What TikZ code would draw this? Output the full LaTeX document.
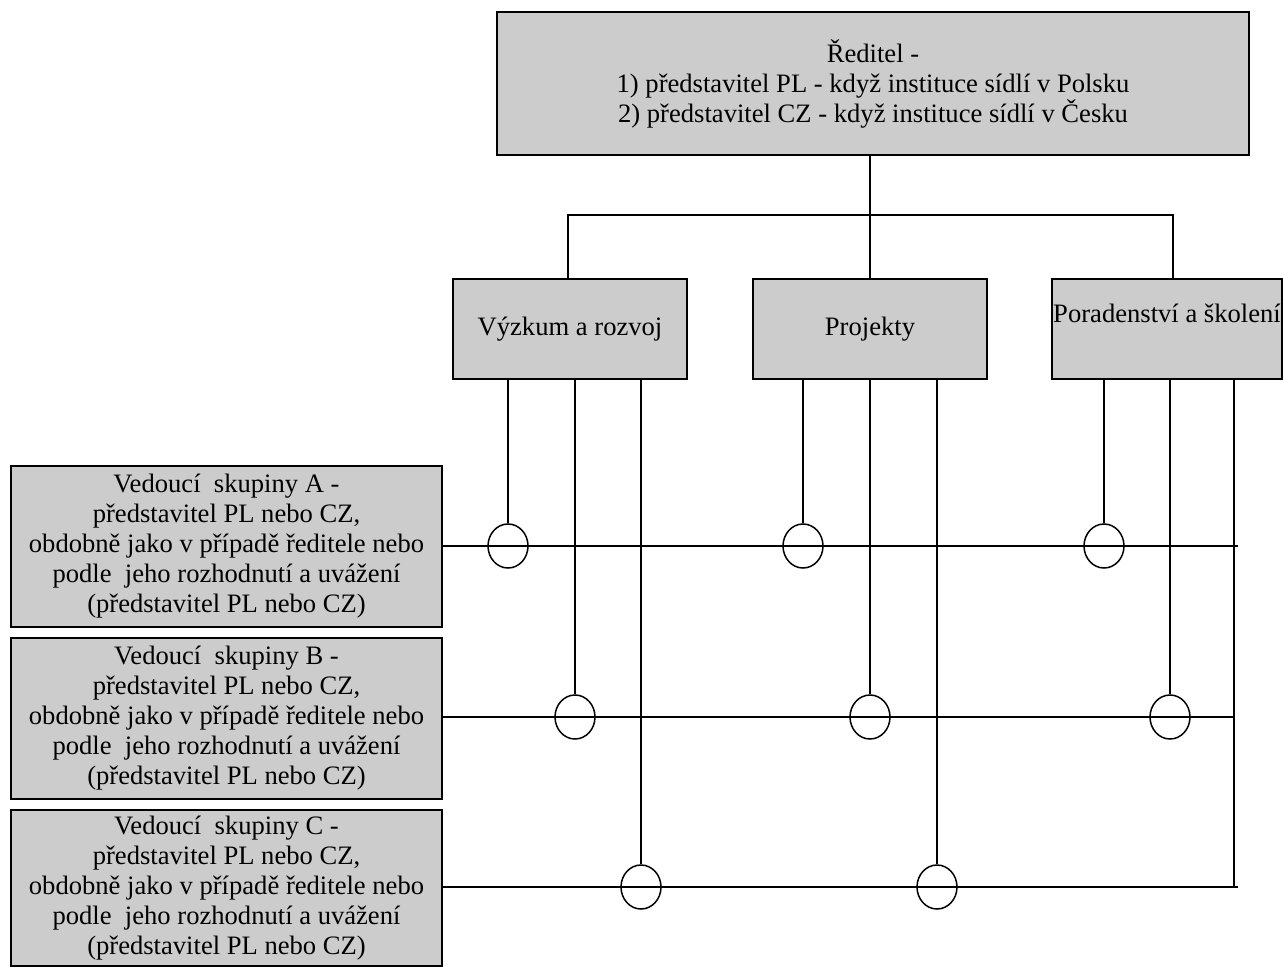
\documentclass[tikz,border=0pt]{standalone}
\usepackage{fontspec}
\setmainfont{Liberation Serif}
\usetikzlibrary{shapes.geometric}
\definecolor{boxgray}{RGB}{204,204,204}

\begin{document}
\begin{tikzpicture}[x=0.5pt, y=-0.5pt,
  box/.style={draw, line width=1pt, fill=boxgray, rectangle, inner sep=0pt, align=center, font=\fontsize{13.3}{15}\selectfont},
  dept/.style={box, minimum width=117pt, minimum height=50pt},
  group/.style={box, minimum width=215.5pt, minimum height=80.5pt},
  joint/.style={draw, ellipse, line width=0.75pt, minimum width=20pt, minimum height=22pt, inner sep=0pt},
  conn/.style={line width=0.75pt}]

\useasboundingbox (0,0) rectangle (1283,967);

% Nodes
\node[box, minimum width=376pt, minimum height=71.5pt] (reditel) at (873,83.5) {Ředitel -\\1) představitel PL - když instituce sídlí v Polsku\\2) představitel CZ - když instituce sídlí v Česku};

\node[dept] (vyzkum) at (570,329) {Výzkum a rozvoj};
\node[dept] (projekty) at (870,329) {Projekty};
\node[dept, minimum width=115pt] (porad) at (1167,329) {};
\node[inner sep=0pt, font=\fontsize{13.3}{15}\selectfont] (poradtext) at (1167,313) {Poradenství a školení};

\node[group] (skupA) at (226.5,546.5) {Vedoucí\ \ skupiny A -\\představitel PL nebo CZ,\\obdobně jako v případě ředitele nebo\\podle\ \ jeho rozhodnutí a uvážení\\(představitel PL nebo CZ)};
\node[group] (skupB) at (226.5,718) {Vedoucí\ \ skupiny B -\\představitel PL nebo CZ,\\obdobně jako v případě ředitele nebo\\podle\ \ jeho rozhodnutí a uvážení\\(představitel PL nebo CZ)};
\node[group, minimum height=78pt] (skupC) at (226.5,888) {Vedoucí\ \ skupiny C -\\představitel PL nebo CZ,\\obdobně jako v případě ředitele nebo\\podle\ \ jeho rozhodnutí a uvážení\\(představitel PL nebo CZ)};

% Joints
\node[joint] (cA1) at (508,546) {};
\node[joint] (cA2) at (803,546) {};
\node[joint] (cA3) at (1104,546) {};
\node[joint] (cB1) at (575,717) {};
\node[joint] (cB2) at (870,717) {};
\node[joint] (cB3) at (1170,717) {};
\node[joint] (cC1) at (641,887) {};
\node[joint] (cC2) at (937,887) {};

\coordinate (bus) at (870,215);
\coordinate (endA) at (1238,546);
\coordinate (endB) at (1235,717);
\coordinate (endC) at (1238,887);
\coordinate (vend) at (1234,887);

% Lines
\draw[conn] (reditel.south -| projekty.north) -- (projekty.north);
\draw[conn] ([xshift=-1pt]vyzkum.north) |- (bus) -| ([xshift=3pt]porad.north);

\draw[conn] (cA1 |- vyzkum.south) -- (cA1.north);
\draw[conn] (cB1 |- vyzkum.south) -- (cB1.north);
\draw[conn] (cC1 |- vyzkum.south) -- (cC1.north);
\draw[conn] (cA2 |- projekty.south) -- (cA2.north);
\draw[conn] (cB2 |- projekty.south) -- (cB2.north);
\draw[conn] (cC2 |- projekty.south) -- (cC2.north);
\draw[conn] (cA3 |- porad.south) -- (cA3.north);
\draw[conn] (cB3 |- porad.south) -- (cB3.north);
\draw[conn] (vend |- porad.south) -- (vend);

\draw[conn] (skupA.east |- endA) -- (endA);
\draw[conn] (skupB.east |- endB) -- (endB);
\draw[conn] (skupC.east |- endC) -- (endC);

\end{tikzpicture}
\end{document}
